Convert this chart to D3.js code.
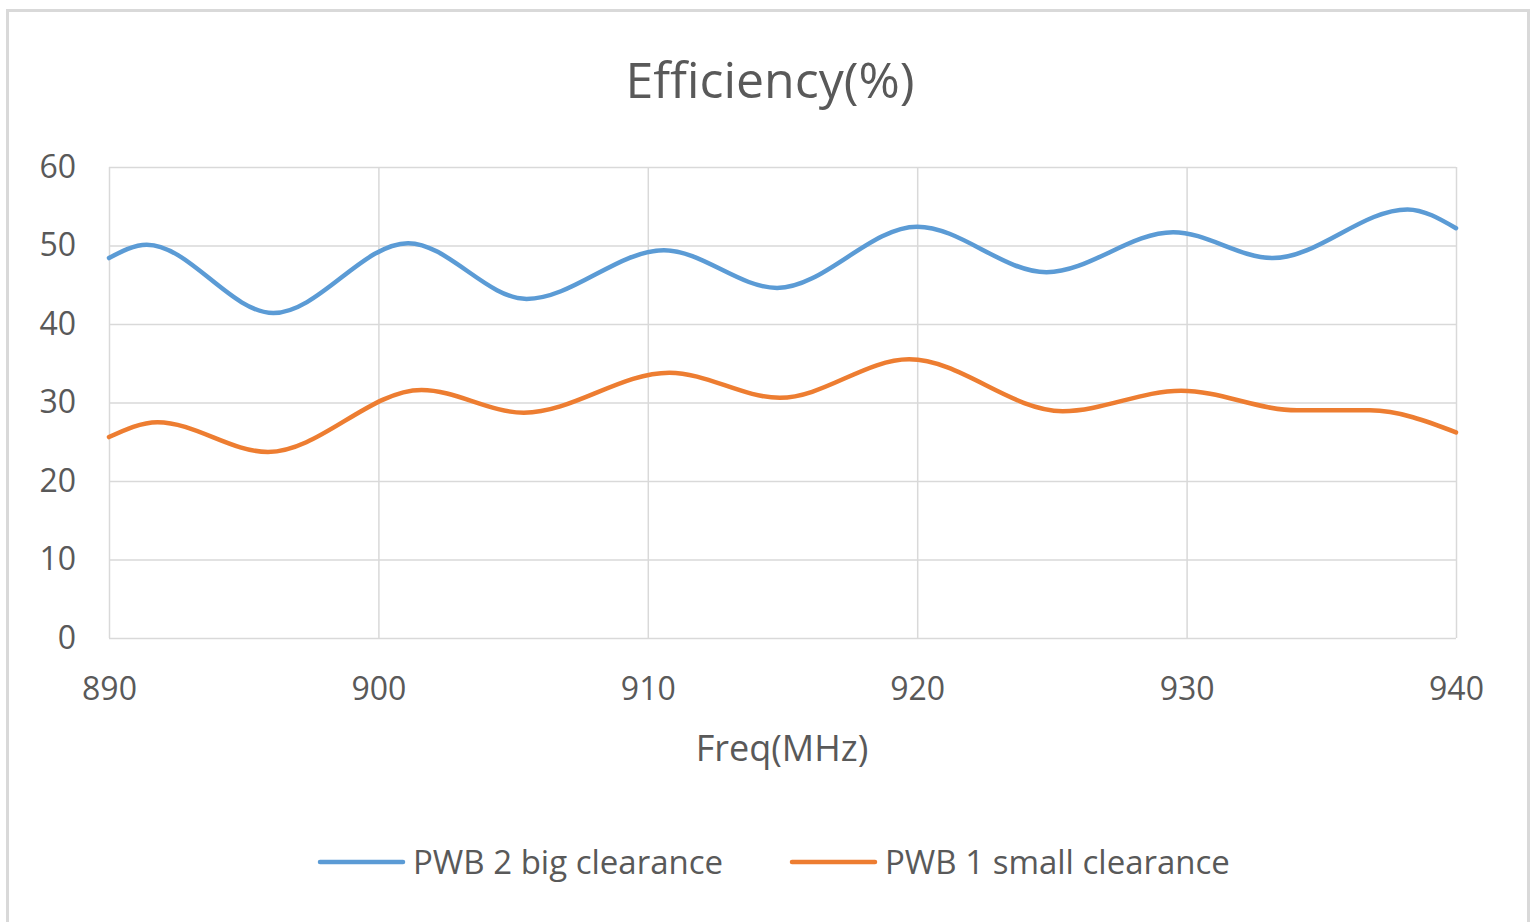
<!DOCTYPE html>
<html>
<head>
<meta charset="utf-8">
<script src="https://cdn.jsdelivr.net/npm/d3@7.9.0/dist/d3.min.js"></script>
<style>
  html, body { margin: 0; padding: 0; background: #fff; }
  svg { display: block; font-family: 'Open Sans', 'DejaVu Sans', sans-serif; }
</style>
</head>
<body>
<div id="chart"></div>
<script>
// ---------- DATA ----------
const chartTitle = 'Efficiency(%)';
const xAxisTitle = 'Freq(MHz)';
const seriesNames = ['PWB 2 big clearance', 'PWB 1 small clearance'];
const seriesColors = ['#5B9BD5', '#ED7D31'];

const xTicks = [890, 900, 910, 920, 930, 940];
const yTicks = [0, 10, 20, 30, 40, 50, 60];

// PWB 2 big clearance
const bigFreq = [890, 891.4, 896.1, 901.1, 905.5, 910.6, 914.8, 920.0, 924.8, 929.5, 933.2, 938.2, 940];
const bigEff = [48.4, 50.1, 41.4, 50.3, 43.2, 49.4, 44.6, 52.4, 46.6, 51.7, 48.4, 54.6, 52.2];

// PWB 1 small clearance
const smallFreq = [890, 891.8, 895.9, 901.6, 905.4, 910.8, 914.9, 919.7, 925.4, 929.8, 934.1, 936.8, 940];
const smallEff = [25.6, 27.5, 23.7, 31.6, 28.7, 33.8, 30.6, 35.5, 28.9, 31.5, 29.0, 29.0, 26.2];

// ---------- LAYOUT ----------
const width = 1536;
const height = 922;
const plot = { left: 109, right: 1456, top: 167, bottom: 638 };
const fontFamily = "'Open Sans', 'DejaVu Sans', sans-serif";
const textColor = '#595959';
const gridColor = '#d9d9d9';

const svg = d3.select('#chart')
  .append('svg')
  .attr('width', width)
  .attr('height', height);

svg.append('rect')
  .attr('width', width).attr('height', height)
  .attr('fill', '#fff');

// outer chart border
svg.append('rect')
  .attr('x', 7.5).attr('y', 10.5)
  .attr('width', 1521).attr('height', 940)
  .attr('fill', 'none')
  .attr('stroke', gridColor)
  .attr('stroke-width', 3);

// ---------- SCALES ----------
const x = d3.scaleLinear()
  .domain([890, 940])
  .range([plot.left, plot.right]);

const y = d3.scaleLinear()
  .domain([0, 60])
  .range([plot.bottom, plot.top]);

// ---------- GRIDLINES ----------
svg.append('g')
  .attr('class', 'y-grid')
  .attr('transform', `translate(${plot.left},0)`)
  .call(d3.axisLeft(y).tickValues(yTicks).tickFormat('').tickSize(-(plot.right - plot.left)))
  .call((g) => g.select('.domain').remove())
  .call((g) => g.selectAll('line').attr('stroke', gridColor).attr('stroke-width', 1.5));

svg.append('g')
  .attr('class', 'x-grid')
  .attr('transform', `translate(0,${plot.bottom})`)
  .call(d3.axisBottom(x).tickValues(xTicks).tickFormat('').tickSize(-(plot.bottom - plot.top)))
  .call((g) => g.select('.domain').remove())
  .call((g) => g.selectAll('line').attr('stroke', gridColor).attr('stroke-width', 1.5));

// ---------- AXES LABELS ----------
svg.append('g')
  .attr('class', 'y-axis')
  .attr('transform', `translate(${plot.left},0)`)
  .call(d3.axisLeft(y).tickValues(yTicks).tickSize(0).tickPadding(33))
  .attr('font-family', fontFamily)
  .attr('font-size', 32)
  .call((g) => g.select('.domain').remove())
  .call((g) => g.selectAll('text').attr('fill', textColor));

svg.append('g')
  .attr('class', 'x-axis')
  .attr('transform', `translate(0,${plot.bottom})`)
  .call(d3.axisBottom(x).tickValues(xTicks).tickSize(0))
  .attr('font-family', fontFamily)
  .attr('font-size', 32)
  .call((g) => g.select('.domain').remove())
  .call((g) => g.selectAll('text')
    .attr('fill', textColor)
    .attr('dy', '0.35em')
    .attr('y', 51));

// ---------- TITLES ----------
svg.append('text')
  .attr('x', 770).attr('y', 98)
  .attr('text-anchor', 'middle')
  .attr('fill', textColor)
  .style('font-size', '50px')
  .text(chartTitle);

svg.append('text')
  .attr('x', 782).attr('y', 761)
  .attr('text-anchor', 'middle')
  .attr('fill', textColor)
  .style('font-size', '36px')
  .text(xAxisTitle);

// ---------- LINES ----------
const series = [
  { name: seriesNames[0], color: seriesColors[0], values: bigFreq.map((f, i) => ({ f, v: bigEff[i] })) },
  { name: seriesNames[1], color: seriesColors[1], values: smallFreq.map((f, i) => ({ f, v: smallEff[i] })) },
];

const line = d3.line()
  .x((d) => x(d.f))
  .y((d) => y(d.v))
  .curve(d3.curveMonotoneX);

svg.append('g')
  .attr('class', 'lines')
  .selectAll('path')
  .data(series)
  .join('path')
  .attr('d', (d) => line(d.values))
  .attr('fill', 'none')
  .attr('stroke', (d) => d.color)
  .attr('stroke-width', 4.5)
  .attr('stroke-linecap', 'round')
  .attr('stroke-linejoin', 'round');

// ---------- LEGEND ----------
const legendX = [320, 792];
const legend = svg.append('g')
  .attr('class', 'legend')
  .selectAll('g')
  .data(series)
  .join('g')
  .attr('transform', (d, i) => `translate(${legendX[i]},862)`);

legend.append('line')
  .attr('x1', 0).attr('x2', 83)
  .attr('stroke', (d) => d.color)
  .attr('stroke-width', 4.5)
  .attr('stroke-linecap', 'round');

legend.append('text')
  .attr('x', 93)
  .attr('dy', '0.35em')
  .attr('fill', textColor)
  .style('font-size', '33px')
  .text((d) => d.name);
</script>
</body>
</html>
